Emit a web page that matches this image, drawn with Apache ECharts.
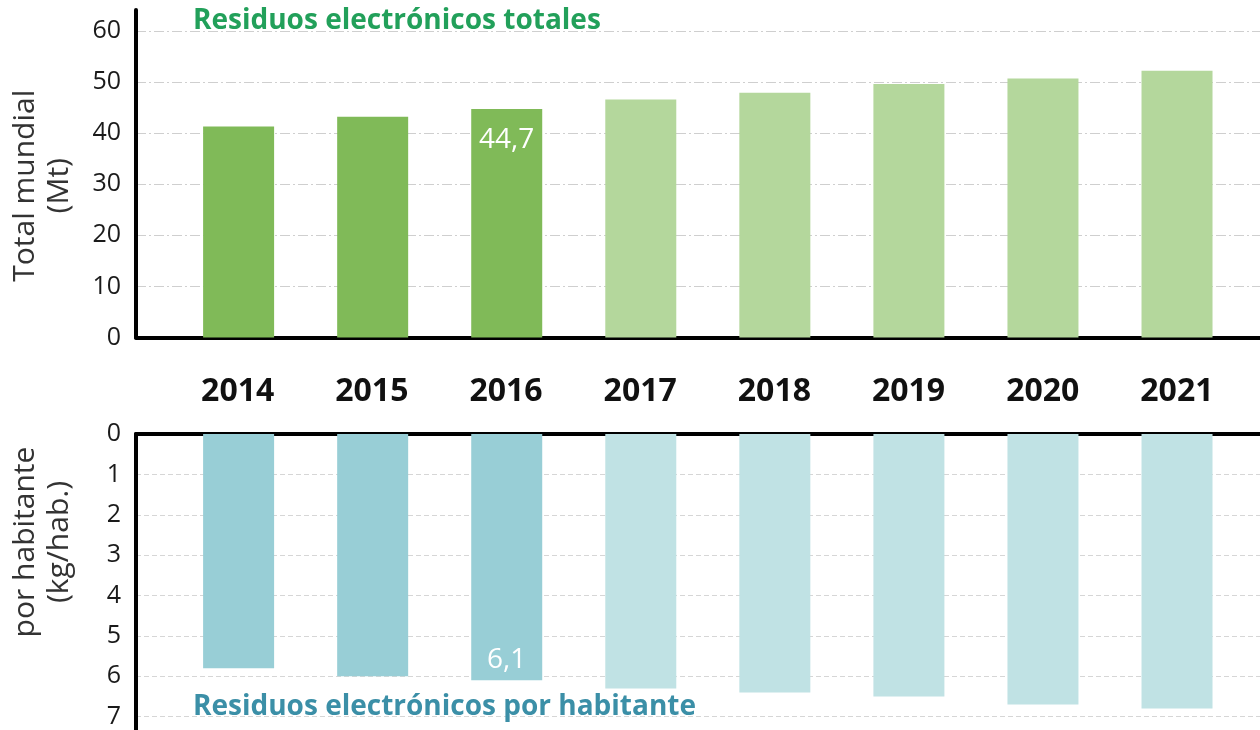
<!DOCTYPE html>
<html>
<head>
<meta charset="utf-8">
<script src="https://cdn.jsdelivr.net/npm/echarts@6/dist/echarts.min.js"></script>
<style>
  html, body { margin: 0; padding: 0; background: #fff; }
  #chart { width: 1260px; height: 730px; }
</style>
</head>
<body>
<div id="chart"></div>
<script>
// datos
var years = ['2014', '2015', '2016', '2017', '2018', '2019', '2020', '2021'];
var totalMt = [41.3, 43.2, 44.7, 46.6, 47.9, 49.6, 50.7, 52.2];
var perCapitaKg = [5.8, 6.0, 6.1, 6.3, 6.4, 6.5, 6.7, 6.8];
var labelledYear = '2016';   // ultimo dato real, los siguientes son previsiones
var totalTicks = [0, 10, 20, 30, 40, 50, 60];
var perCapitaTicks = [0, 1, 2, 3, 4, 5, 6, 7];

var chart = echarts.init(document.getElementById('chart'));

var realIdx = years.indexOf(labelledYear);
var greenDark = '#80ba58', greenLight = '#b4d79c';
var tealDark = '#98ced6', tealLight = '#c0e2e4';

// el eje de categorias empieza algo a la derecha del eje vertical
var xMin = -0.7654, xMax = 7.619;

function comma(v) { return String(v).replace('.', ','); }

function barData(values, dark, light, pos, dist) {
    return values.map(function (v, i) {
        var item = { value: [i, v], itemStyle: { color: i <= realIdx ? dark : light } };
        if (i === realIdx) {
            item.label = { show: true, position: pos, distance: dist, color: '#fff', fontSize: 28,
                formatter: function (p) { return comma(p.value[1]); } };
        }
        return item;
    });
}

function valueX(grid, position) {
    return {
        type: 'value', gridIndex: grid, position: position, min: xMin, max: xMax,
        axisLine: { show: true, onZero: false, lineStyle: { color: '#000', width: 4 } },
        axisTick: { show: false }, axisLabel: { show: false }, splitLine: { show: false }
    };
}

function inTicks(ticks) {
    return function (v) { return ticks.indexOf(v) >= 0 ? String(v) : ''; };
}

var option = {
    textStyle: { fontFamily: 'Open Sans' },
    title: [{
        text: 'Residuos electrónicos totales', left: 188, top: 2,
        textStyle: { fontSize: 28, fontWeight: 'bold', color: '#22a05a' }
    }, {
        text: 'Residuos electrónicos por habitante', left: 188, top: 688,
        textStyle: { fontSize: 28, fontWeight: 'bold', color: '#3b8fa7' }
    }],
    grid: [
        { left: 135, right: 0, top: 10, height: 327.5 },
        { left: 135, right: 0, top: 434, bottom: 0 },
        { left: 170.6, right: 16, top: 391, height: 1 }
    ],
    xAxis: [
        valueX(0, 'bottom'),
        valueX(1, 'top'),
        {
            type: 'category', gridIndex: 2, data: years,
            axisLine: { show: false }, axisTick: { show: false },
            axisLabel: { fontSize: 32, fontWeight: 'bold', color: '#111', margin: 0, verticalAlign: 'middle' }
        }
    ],
    yAxis: [{
        type: 'value', gridIndex: 0, min: 0, max: 64.1, interval: 10,
        name: 'Total mundial\n(Mt)', nameLocation: 'middle', nameGap: 60, nameRotate: 90,
        nameTextStyle: { fontSize: 30, color: '#333', lineHeight: 34, padding: [0, 24, 0, 0] },
        axisLine: { show: true, onZero: false, lineStyle: { color: '#000', width: 4 } },
        axisTick: { show: false },
        axisLabel: { fontSize: 25, color: '#1a1a1a', margin: 15, showMaxLabel: false, formatter: inTicks(totalTicks) },
        splitLine: { show: true, showMaxLine: false, lineStyle: { color: '#cfcfcf', width: 1, type: [10, 3, 2, 3] } }
    }, {
        type: 'value', gridIndex: 1, min: 0, max: 7.33, interval: 1, inverse: true,
        name: 'por habitante\n(kg/hab.)', nameLocation: 'middle', nameGap: 60, nameRotate: 90,
        nameTextStyle: { fontSize: 30, color: '#333', lineHeight: 34, padding: [0, 0, 0, 80] },
        axisLine: { show: true, onZero: false, lineStyle: { color: '#000', width: 4 } },
        axisTick: { show: false },
        axisLabel: { fontSize: 25, color: '#1a1a1a', margin: 15, showMaxLabel: false, formatter: inTicks(perCapitaTicks) },
        splitLine: { show: true, showMaxLine: false, lineStyle: { color: '#d6d6d6', width: 1, type: [5, 3] } }
    }, {
        type: 'value', gridIndex: 2, show: false
    }],
    series: [{
        name: 'Total mundial', type: 'bar', xAxisIndex: 0, yAxisIndex: 0, barWidth: 71,
        data: barData(totalMt, greenDark, greenLight, 'insideTop', 17)
    }, {
        name: 'Por habitante', type: 'bar', xAxisIndex: 1, yAxisIndex: 1, barWidth: 71,
        data: barData(perCapitaKg, tealDark, tealLight, 'insideBottom', 6)
    }]
};
chart.setOption(option);
</script>
</body>
</html>
